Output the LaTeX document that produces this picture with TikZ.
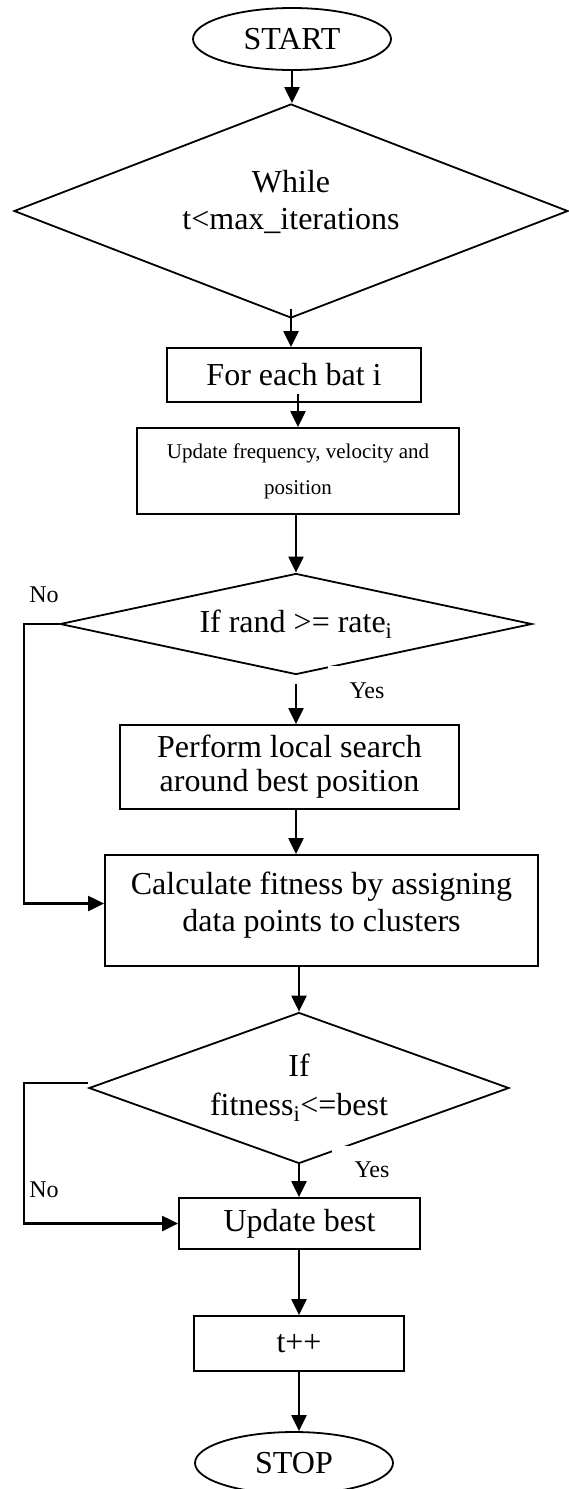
\documentclass[tikz,border=0pt]{standalone}
\usepackage{fontspec}
\setmainfont{Liberation Serif}
\usetikzlibrary{shapes.geometric,arrows.meta}
\newcommand\myraise[2]{\raisebox{#1}[\height][\depth]{\begin{tabular}{@{}c@{}}#2\end{tabular}}}
\begin{document}
\begin{tikzpicture}[x=1pt,y=-1pt,
  every node/.style={inner sep=0pt, align=center, font=\fontsize{32}{37}\selectfont},
  box/.style={draw, line width=1.8pt, rectangle},
  term/.style={draw, line width=1.8pt, ellipse},
  dec/.style={draw, line width=1.8pt, diamond},
  arr/.style={line width=2.2pt, -{Triangle[length=16pt,width=15pt]}},
  lab/.style={font=\fontsize{24}{28}\selectfont}]
\useasboundingbox (0,0) rectangle (569,1489);
% nodes
\node[term, minimum width=198, minimum height=62] (start) at (292,39) {START};
\node[dec, minimum width=554, minimum height=214, aspect=2.6] (d1) at (291,211) {\myraise{7pt}{While\\t<max\_iterations}};
\node[box, minimum width=254, minimum height=54] (fe) at (294,375) {For each bat i};
\node[box, minimum width=322, minimum height=86, font=\fontsize{21}{36}\selectfont] (upd) at (298,471) {Update frequency, velocity and\\position};
\node[dec, minimum width=472, minimum height=101, aspect=4.6] (d2) at (296,624) {If rand >= rate\textsubscript{i}};
\node[box, minimum width=339, minimum height=84, font=\fontsize{32}{34}\selectfont] (perf) at (289.5,767) {Perform local search\\around best position};
\node[box, minimum width=433, minimum height=111] (calc) at (321.5,910.5) {\myraise{5pt}{Calculate fitness by assigning\\data points to clusters}};
\node[dec, minimum width=420, minimum height=151, aspect=2.8, font=\fontsize{32}{39}\selectfont] (d3) at (299,1088) {If\\fitness\textsubscript{i}<=best};
\node[box, minimum width=241, minimum height=51] (ub) at (299.5,1223.5) {Update best};
\node[box, minimum width=210, minimum height=55] (tpp) at (299,1343.5) {t++};
\node[term, minimum width=198, minimum height=62] (stop) at (294,1463) {STOP};
% labels
\node[lab] (no1) at (44,595) {No};
\node[lab, fill=white, minimum width=78, minimum height=50] (yes1) at (367,691) {Yes};
\node[lab] (no2) at (44,1190) {No};
\node[lab, fill=white, minimum width=80, minimum height=48] (yes2) at (372,1170) {Yes};
% connectors
\draw[arr] (start.south) -- (start.south |- d1.north);
\draw[arr] ([yshift=10pt]d1.south) -- (fe.north -| d1.south);
\draw[arr] ([yshift=9pt]upd.north |- fe.south) -- (upd.north);
\draw[arr] (upd.south -| d2.north) -- (d2.north);
\draw[arr] ([yshift=-9pt]d2.south) -- (perf.north -| d2.south);
\draw[arr] (perf.south -| d2.south) -- (calc.north -| d2.south);
\draw[arr] (calc.south -| d3.north) -- (d3.north);
\draw[arr] (d3.south) -- (ub.north -| d3.south);
\draw[arr] (ub.south -| tpp.north) -- (tpp.north);
\draw[arr] (tpp.south) -- (stop.north -| tpp.south);
\draw[arr] (d2.west) -- ++(-35,0) |- ([yshift=7pt]calc.west);
\draw[arr] ([yshift=5pt]d3.west) -- ++(-64,0) |- (ub.west);
\end{tikzpicture}
\end{document}
